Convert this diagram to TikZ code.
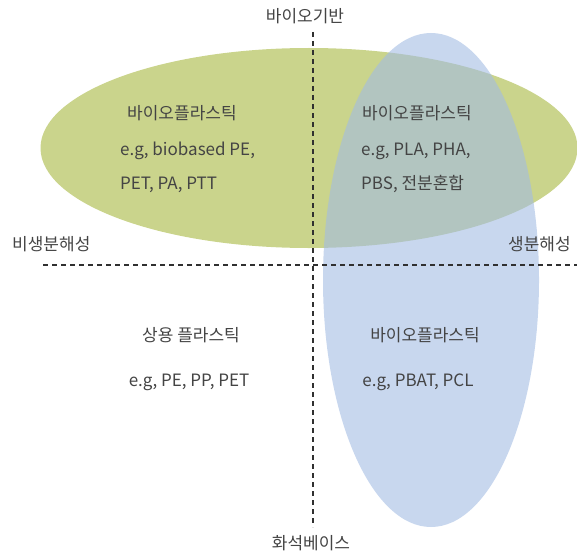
\documentclass[tikz,border=0pt]{standalone}
\usepackage{fontspec}
\setmainfont{Noto Sans CJK KR}
\usetikzlibrary{shapes.geometric}
\usetikzlibrary{positioning}

\definecolor{biogreen}{HTML}{CAD48C}
\definecolor{degblue}{HTML}{A3BCE3}
\definecolor{textgray}{HTML}{444444}
\definecolor{axisgray}{HTML}{303030}

\begin{document}
\begin{tikzpicture}
    [x=1pt,y=-1pt,
    region/.style={ellipse,inner sep=0pt,outer sep=0pt,draw=none},
    word/.style={text=textgray,inner sep=0pt,
      font=\fontsize{17}{20}\selectfont},
    axis/.style={draw=axisgray,line width=1.9pt,
      dash pattern=on 5pt off 4pt}]

    \useasboundingbox (0,0) rectangle (577,559);

    % regions
    \node[region,fill=biogreen,minimum width=537pt,minimum height=200pt]
      (bio based) at (309,148) {};

    \node[region,fill=degblue,fill opacity=0.6,minimum width=216pt,minimum height=494pt]
      (degradable) at (431,280) {};

    % axes
    \coordinate (axis top)    at (313,32);
    \coordinate (axis bottom) at (313,527);
    \coordinate (axis left)   at (43,265);
    \coordinate (axis right)  at (577,265);

    \draw[axis] (axis top) -- (axis bottom);
    \draw[axis] (axis left) -- (axis right);

    % axis labels
    \node[word,anchor=base]      (bio label)     at (305,23)  {바이오기반};
    \node[word,anchor=base]      (fossil label)  at (311,549) {화석베이스};
    \node[word,anchor=base west] (nondeg label)  at (12,250)  {비생분해성};
    \node[word,anchor=base west] (deg label)     at (508,250) {생분해성};

    % quadrants
    \node[word,anchor=base west] (tl title)  at (127,119) {바이오플라스틱};
    \node[word,anchor=base west] (tl line 1) at (120,155) {e.g, biobased PE,};
    \node[word,anchor=base west] (tl line 2) at (120,189) {PET, PA, PTT};

    \node[word,anchor=base west] (tr title)  at (362,119) {바이오플라스틱};
    \node[word,anchor=base west] (tr line 1) at (361,155) {e.g, PLA, PHA,};
    \node[word,anchor=base west] (tr line 2) at (361,189) {PBS, 전분혼합};

    \node[word,anchor=base]      (bl title)  at (191,341) {상용 플라스틱};
    \node[word,anchor=base]      (bl line 1) at (189,386) {e.g, PE, PP, PET};

    \node[word,anchor=base]      (br title)  at (425,341) {바이오플라스틱};
    \node[word,anchor=base]      (br line 1) at (418,386) {e.g, PBAT, PCL};

  \end{tikzpicture}
\end{document}
